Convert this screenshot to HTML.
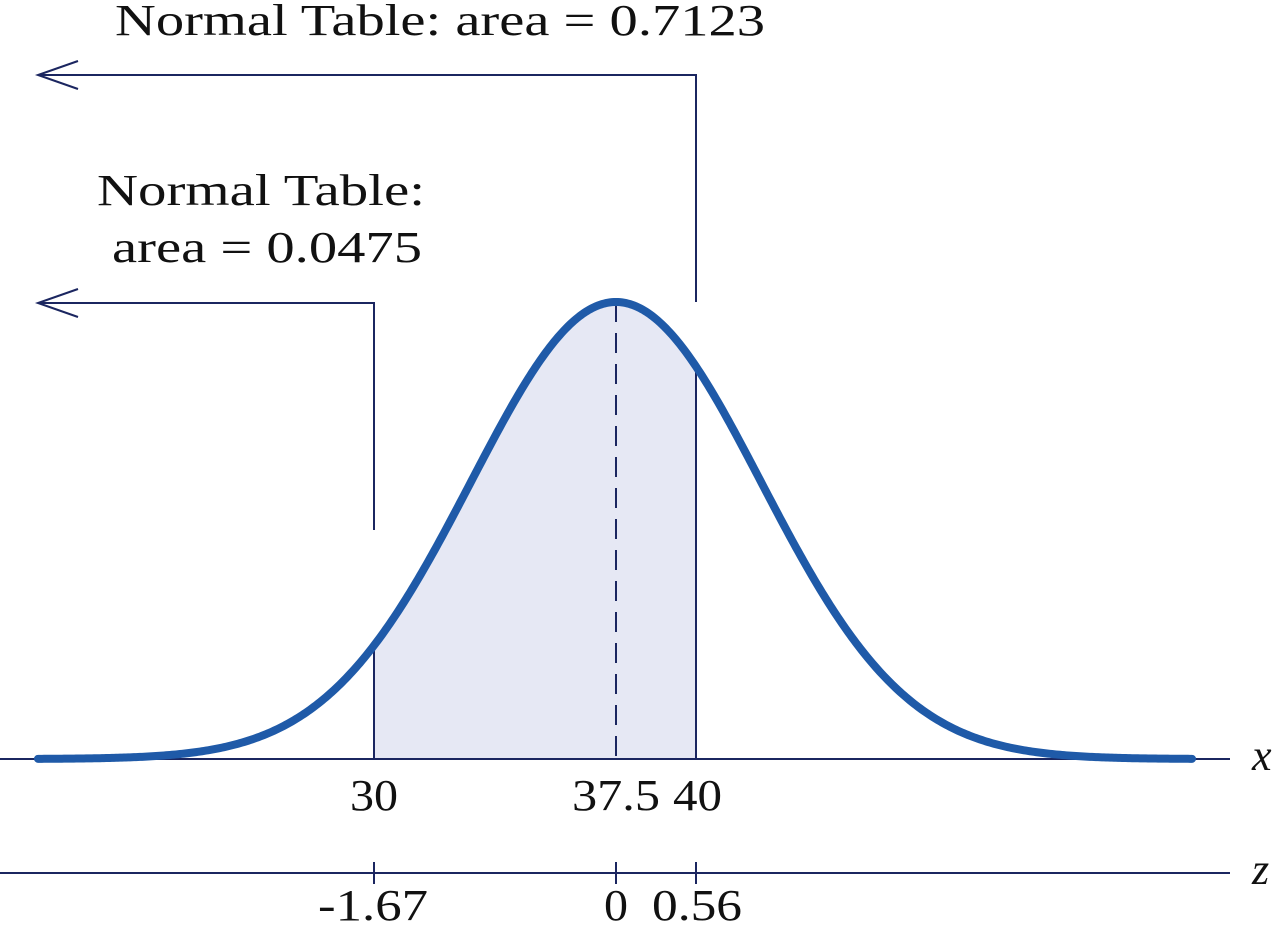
<!DOCTYPE html>
<html><head><meta charset="utf-8"><style>
html,body{margin:0;padding:0;background:#fff;width:1278px;height:925px;overflow:hidden}
text{font-family:"Liberation Serif","DejaVu Serif",serif;font-size:44px;fill:#111}
</style></head><body>
<svg width="1278" height="925" viewBox="0 0 1278 925" xmlns="http://www.w3.org/2000/svg">
<path id="fill" fill="#e6e8f4" stroke="none" d=""/>
<g stroke="#1b2660" stroke-width="2" fill="none">
<line x1="0" y1="759" x2="1230" y2="759"/>
<line x1="0" y1="873" x2="1230" y2="873"/>
<line x1="374" y1="862" x2="374" y2="884"/>
<line x1="616" y1="862" x2="616" y2="884"/>
<line x1="696" y1="862" x2="696" y2="884"/>
<line x1="374" y1="645" x2="374" y2="759"/>
<line x1="696" y1="367" x2="696" y2="759"/>
<line x1="616" y1="302" x2="616" y2="759" stroke-dasharray="20,11"/>
<polyline points="696,302 696,75 38,75"/>
<polyline points="374,530 374,303 38,303"/>
<polyline points="78,61 38,75 78,89"/>
<polyline points="78,289 38,303 78,317"/>
</g>
<path id="curve" fill="none" stroke="#1f5aa8" stroke-width="8" stroke-linecap="round" d=""/>
<text x="115" y="35" textLength="650" lengthAdjust="spacingAndGlyphs">Normal Table: area = 0.7123</text>
<text x="97" y="205" textLength="328" lengthAdjust="spacingAndGlyphs">Normal Table:</text>
<text x="112" y="262" textLength="310" lengthAdjust="spacingAndGlyphs">area = 0.0475</text>
<text x="350" y="810" textLength="48" lengthAdjust="spacingAndGlyphs">30</text>
<text x="572" y="810" textLength="88" lengthAdjust="spacingAndGlyphs">37.5</text>
<text x="673" y="810" textLength="49" lengthAdjust="spacingAndGlyphs">40</text>
<text x="318" y="920" textLength="110" lengthAdjust="spacingAndGlyphs">-1.67</text>
<text x="604" y="920" textLength="24" lengthAdjust="spacingAndGlyphs">0</text>
<text x="652" y="920" textLength="90" lengthAdjust="spacingAndGlyphs">0.56</text>
<text x="1252" y="770" font-style="italic">x</text>
<text x="1252" y="884" font-style="italic">z</text>
<script>
var m=616,s=145,h=457,b=759;
function y(x){return b-h*Math.exp(-0.5*Math.pow((x-m)/s,2));}
var d="";for(var x=38;x<=1192;x+=2)d+=(x==38?"M":"L")+x+","+y(x).toFixed(2);
document.getElementById("curve").setAttribute("d",d);
var f="M374,"+b;for(var x=374;x<=696;x+=2)f+="L"+x+","+y(x).toFixed(2);f+="L696,"+b+"Z";
document.getElementById("fill").setAttribute("d",f);
</script>
</svg>
</body></html>
